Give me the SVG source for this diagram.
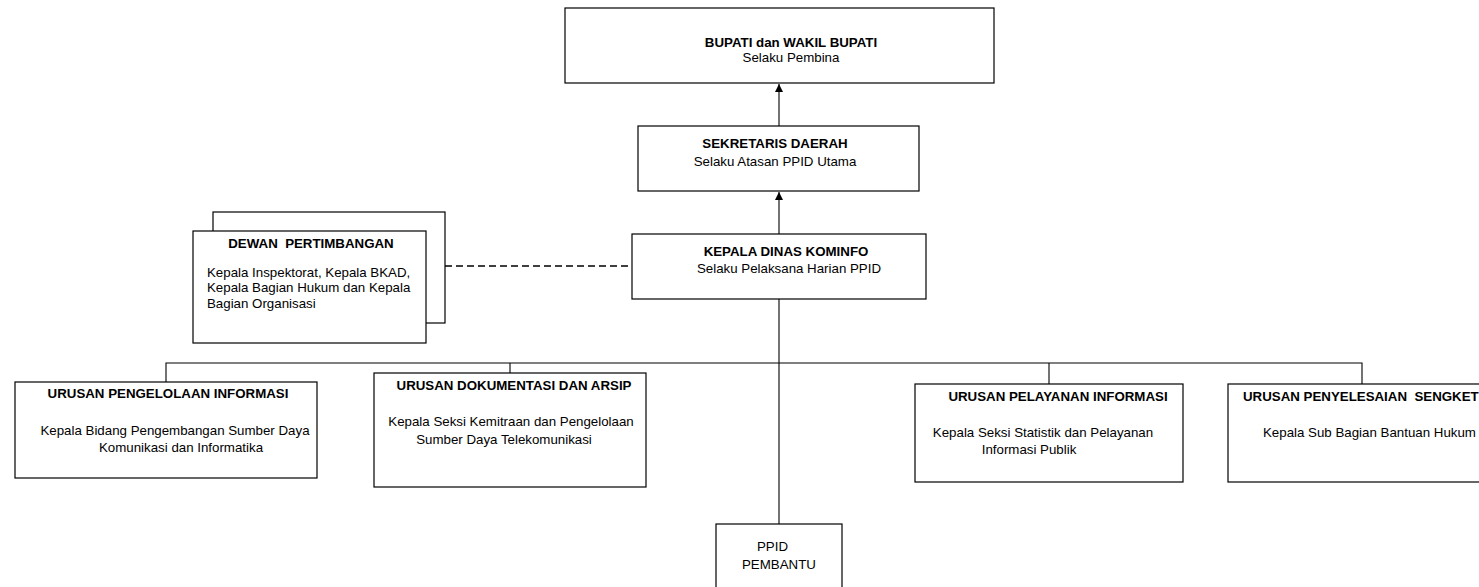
<svg xmlns="http://www.w3.org/2000/svg" width="1479" height="587" viewBox="0 0 1479 587">
<style>
.box{fill:#fff;stroke:#000;stroke-width:1.2}
.ln{fill:none;stroke:#000;stroke-width:1.1}
.dash{fill:none;stroke:#000;stroke-width:1.4;stroke-dasharray:7,4}
.t{font-family:"Liberation Sans",Arial,sans-serif;font-size:13.3px;fill:#000}
.b{font-weight:bold}
.m{text-anchor:middle}
</style>
<defs>
<marker id="arr" viewBox="0 0 10 10" refX="10" refY="5" markerWidth="8" markerHeight="8" markerUnits="userSpaceOnUse" orient="auto">
<path d="M0,0 L10,5 L0,10 Z" fill="#000"/>
</marker>
</defs>
<rect width="1479" height="587" fill="#fff"/>
<g id="connectors">
<line class="ln" x1="779" y1="126" x2="779" y2="84" marker-end="url(#arr)"/>
<line class="ln" x1="779" y1="234" x2="779" y2="192" marker-end="url(#arr)"/>
<line class="ln" x1="779" y1="299" x2="779" y2="524"/>
<line class="dash" x1="445" y1="266" x2="632" y2="266"/>
<polyline class="ln" points="166,382 166,363 1362,363 1362,384"/>
<line class="ln" x1="510" y1="363" x2="510" y2="373"/>
<line class="ln" x1="1049" y1="363" x2="1049" y2="384"/>
</g>
<g id="bupati">
<rect class="box" x="565" y="8" width="429" height="75"/>
<text class="t b m" x="791" y="47">BUPATI dan WAKIL BUPATI</text>
<text class="t m" x="791" y="62">Selaku Pembina</text>
</g>
<g id="sekda">
<rect class="box" x="638" y="126" width="281" height="65"/>
<text class="t b m" x="775" y="148">SEKRETARIS DAERAH</text>
<text class="t m" x="775" y="166">Selaku Atasan PPID Utama</text>
</g>
<g id="kadis">
<rect class="box" x="632" y="234" width="294" height="65"/>
<text class="t b m" x="786" y="256">KEPALA DINAS KOMINFO</text>
<text class="t m" x="789" y="273">Selaku Pelaksana Harian PPID</text>
</g>
<g id="dewan">
<rect class="box" x="213" y="212" width="232" height="111"/>
<rect class="box" x="193" y="231" width="233" height="112"/>
<text class="t b m" x="311" y="248" xml:space="preserve">DEWAN  PERTIMBANGAN</text>
<text class="t" x="207" y="277">Kepala Inspektorat, Kepala BKAD,</text>
<text class="t" x="207" y="292">Kepala Bagian Hukum dan Kepala</text>
<text class="t" x="207" y="308">Bagian Organisasi</text>
</g>
<g id="pengelolaan">
<rect class="box" x="15" y="382" width="302" height="96"/>
<text class="t b m" x="168" y="398">URUSAN PENGELOLAAN INFORMASI</text>
<text class="t m" x="175" y="435">Kepala Bidang Pengembangan Sumber Daya</text>
<text class="t m" x="181" y="452">Komunikasi dan Informatika</text>
</g>
<g id="dokumentasi">
<rect class="box" x="374" y="373" width="272" height="114"/>
<text class="t b m" x="514" y="390">URUSAN DOKUMENTASI DAN ARSIP</text>
<text class="t m" x="511" y="426">Kepala Seksi Kemitraan dan Pengelolaan</text>
<text class="t m" x="504" y="444">Sumber Daya Telekomunikasi</text>
</g>
<g id="pelayanan">
<rect class="box" x="915" y="384" width="268" height="98"/>
<text class="t b m" x="1058" y="401">URUSAN PELAYANAN INFORMASI</text>
<text class="t m" x="1043" y="437">Kepala Seksi Statistik dan Pelayanan</text>
<text class="t m" x="1029" y="454">Informasi Publik</text>
</g>
<g id="sengketa">
<rect class="box" x="1228" y="384" width="260" height="98"/>
<text class="t b" x="1243" y="401" xml:space="preserve">URUSAN PENYELESAIAN  SENGKET</text>
<text class="t" x="1263" y="437">Kepala Sub Bagian Bantuan Hukum</text>
</g>
<g id="ppid-pembantu">
<rect class="box" x="716" y="524" width="126" height="70"/>
<text class="t" x="757" y="551">PPID</text>
<text class="t" x="742" y="569">PEMBANTU</text>
</g>
</svg>
